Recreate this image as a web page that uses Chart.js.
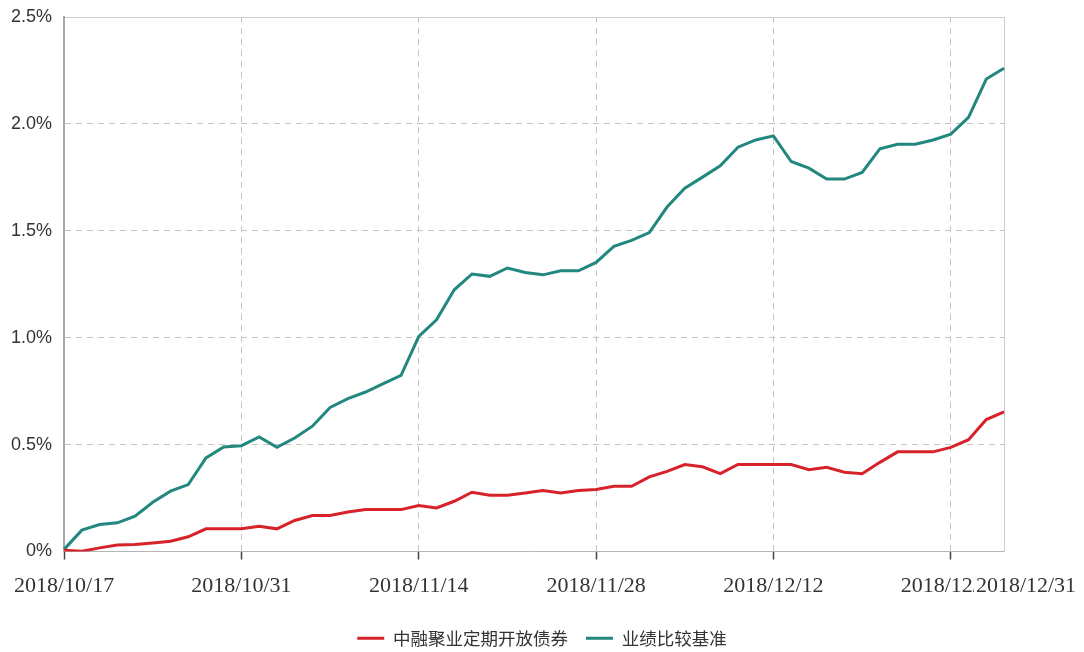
<!DOCTYPE html>
<html>
<head>
<meta charset="utf-8">
<script src="https://cdn.jsdelivr.net/npm/chart.js@4.4.0/dist/chart.umd.min.js"></script>
<style>
  body { margin: 0; background: #fff; }
</style>
</head>
<body>
<canvas id="navChart" width="1084" height="652"></canvas>
<script>
// trading days shown on the x axis
const dates = [
  "2018/10/17", "2018/10/18", "2018/10/19", "2018/10/22", "2018/10/23", "2018/10/24", "2018/10/25", "2018/10/26", "2018/10/29", "2018/10/30",
  "2018/10/31", "2018/11/01", "2018/11/02", "2018/11/05", "2018/11/06", "2018/11/07", "2018/11/08", "2018/11/09", "2018/11/12", "2018/11/13",
  "2018/11/14", "2018/11/15", "2018/11/16", "2018/11/19", "2018/11/20", "2018/11/21", "2018/11/22", "2018/11/23", "2018/11/26", "2018/11/27",
  "2018/11/28", "2018/11/29", "2018/11/30", "2018/12/03", "2018/12/04", "2018/12/05", "2018/12/06", "2018/12/07", "2018/12/10", "2018/12/11",
  "2018/12/12", "2018/12/13", "2018/12/14", "2018/12/17", "2018/12/18", "2018/12/19", "2018/12/20", "2018/12/21", "2018/12/24", "2018/12/25",
  "2018/12/26", "2018/12/27", "2018/12/28", "2018/12/31"
];

// cumulative return, %
const fundReturn = [
  0.006, 0.001, 0.017, 0.03, 0.033, 0.04, 0.048, 0.069, 0.106, 0.106,
  0.106, 0.118, 0.106, 0.145, 0.168, 0.168, 0.185, 0.196, 0.196, 0.196,
  0.215, 0.204, 0.235, 0.277, 0.263, 0.263, 0.274, 0.285, 0.274, 0.285,
  0.29, 0.305, 0.305, 0.349, 0.375, 0.407, 0.396, 0.364, 0.407, 0.407,
  0.407, 0.407, 0.383, 0.394, 0.371, 0.364, 0.417, 0.466, 0.466, 0.466,
  0.487, 0.523, 0.617, 0.653
];
const benchmarkReturn = [
  0.01, 0.10, 0.126, 0.134, 0.165, 0.23, 0.282, 0.313, 0.438, 0.489,
  0.495, 0.536, 0.487, 0.531, 0.586, 0.674, 0.715, 0.746, 0.785, 0.824,
  1.006, 1.084, 1.224, 1.298, 1.287, 1.326, 1.305, 1.294, 1.313, 1.313,
  1.352, 1.427, 1.455, 1.492, 1.611, 1.699, 1.751, 1.804, 1.891, 1.925,
  1.944, 1.824, 1.793, 1.742, 1.742, 1.773, 1.883, 1.905, 1.905, 1.925,
  1.952, 2.031, 2.21, 2.26
];

const seriesNames = ["中融聚业定期开放债券", "业绩比较基准"];
const labelIdx = [0, 10, 20, 30, 40, 50];
const lastIdx = dates.length - 1;
const yMax = 2.5;

const dash = [6, 5];
const tickFont = { family: "Liberation Serif", size: 22 };

new Chart(document.getElementById("navChart"), {
  type: "line",
  data: {
    labels: dates,
    datasets: [
      {
        label: seriesNames[0],
        data: fundReturn,
        borderColor: "#d7222a",
        backgroundColor: "#d7222a",
        borderWidth: 3,
        pointRadius: 0,
        tension: 0,
      },
      {
        label: seriesNames[1],
        data: benchmarkReturn,
        borderColor: "#22877f",
        backgroundColor: "#22877f",
        borderWidth: 3,
        pointRadius: 0,
        tension: 0,
      },
    ],
  },
  options: {
    responsive: false,
    animation: false,
    layout: { padding: { top: 17, right: 0, bottom: -5, left: 0 } },
    plugins: {
      tooltip: { enabled: false },
      legend: {
        position: "bottom",
        labels: {
          usePointStyle: true,
          pointStyle: "line",
          pointStyleWidth: 27,
          padding: 18,
          color: "#333",
          font: { family: "Noto Sans CJK SC", size: 17.5 },
        },
      },
    },
    scales: {
      x: {
        type: "category",
        grid: {
          color: (c) => (c.index > 0 && labelIdx.includes(c.index) ? "#c4c4c4" : "rgba(0,0,0,0)"),
          tickColor: (c) => (labelIdx.includes(c.index) ? "#444" : "rgba(0,0,0,0)"),
          tickLength: 8,
          tickWidth: 1.5,
        },
        border: {
          color: "#b5b5b5",
          width: 1,
          dash: (c) => (c.tick ? dash : []),
        },
        ticks: {
          autoSkip: false,
          maxRotation: 0,
          padding: 14,
          color: "#333",
          font: tickFont,
          callback: (v, i) => (labelIdx.includes(i) ? dates[i] : ""),
        },
        afterFit: (s) => { s.height = 60; },
      },
      // last date label sits a little to the right and over the one before it
      x2: {
        type: "category",
        position: "bottom",
        weight: -1,
        min: 0,
        max: lastIdx,
        grid: { display: false, drawTicks: false },
        border: { display: false },
        ticks: {
          autoSkip: false,
          maxRotation: 0,
          mirror: true,
          padding: -48,
          labelOffset: 22,
          z: 1,
          showLabelBackdrop: (c) => c.index === lastIdx,
          backdropColor: "#ffffff",
          backdropPadding: { left: 2, right: 2, top: 0, bottom: 0 },
          color: "#333",
          font: tickFont,
          callback: (v, i) => (i === lastIdx ? dates[i] : ""),
        },
        afterFit: (s) => { s.height = 0; },
      },
      y: {
        min: 0,
        max: yMax,
        grid: {
          drawTicks: false,
          color: (c) => {
            if (!c.tick || c.tick.value === 0) return "rgba(0,0,0,0)";
            return c.tick.value === yMax ? "#cccccc" : "#c4c4c4";
          },
        },
        border: {
          color: "#a8a8a8",
          width: 2,
          dash: (c) => (c.tick && c.tick.value < yMax ? dash : []),
        },
        ticks: {
          stepSize: 0.5,
          padding: 12,
          color: "#333",
          font: { family: "Liberation Sans", size: 18 },
          callback: (v) => (v === 0 ? "0%" : v.toFixed(1) + "%"),
        },
        afterFit: (s) => {
          s.width = 64;
          s.paddingTop = 10;
          s.paddingBottom = 10;
        },
      },
      // right-hand frame line of the plot
      yRight: {
        position: "right",
        min: 0,
        max: yMax,
        grid: { display: false, drawTicks: false },
        border: { color: "#cccccc", width: 1 },
        ticks: { display: false },
        afterFit: (s) => {
          s.width = 80;
          s.paddingTop = 0;
          s.paddingBottom = 0;
        },
      },
    },
  },
});
</script>
</body>
</html>
